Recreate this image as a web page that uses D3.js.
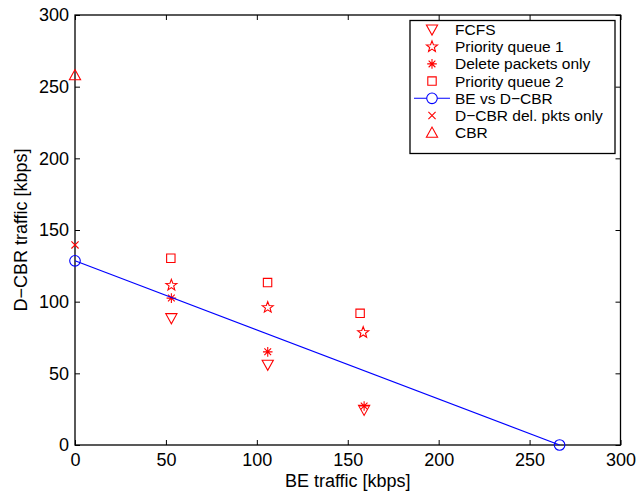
<!DOCTYPE html>
<html><head><meta charset="utf-8">
<script src="https://cdn.jsdelivr.net/npm/d3@7"></script>
<style>body{margin:0;background:#fff;} text{font-family:"Liberation Sans",Arial,Helvetica,sans-serif;}</style>
</head><body>
<svg id="chart" width="638" height="494"></svg>
<script>
const xTicks = [0, 50, 100, 150, 200, 250, 300];
const yTicks = [0, 50, 100, 150, 200, 250, 300];
const fcfs = [[53, 88.5], [106, 56], [159, 24.5]];
const pq1 = [[53, 111.5], [106, 96], [158.5, 78.5]];
const delPkts = [[53, 102.5], [106, 65], [159, 27.2]];
const pq2 = [[52.7, 130.3], [105.9, 113.3], [156.8, 91.9]];
const beVsDcbr = [[0, 128.5], [266.5, 0]];
const dcbrDel = [[0, 139.6]];
const cbr = [[0, 258]];
const legendLabels = ["FCFS", "Priority queue 1", "Delete packets only", "Priority queue 2", "BE vs D\u2212CBR", "D\u2212CBR del. pkts only", "CBR"];

const svg = d3.select("#chart");
const M = {l: 75, r: 620.5, t: 15, b: 445};
const x = d3.scaleLinear().domain([0, 300]).range([M.l, M.r]);
const y = d3.scaleLinear().domain([0, 300]).range([M.b, M.t]);
const red = "#ff0000", blue = "#0000ff";

const axB = d3.axisBottom(x).tickValues(xTicks).tickSizeInner(-5).tickSizeOuter(0).tickPadding(8);
const axL = d3.axisLeft(y).tickValues(yTicks).tickSizeInner(-5).tickSizeOuter(0).tickPadding(6);
const axT = d3.axisTop(x).tickValues(xTicks).tickSizeInner(-5).tickSizeOuter(0).tickFormat("");
const axR = d3.axisRight(y).tickValues(yTicks).tickSizeInner(-5).tickSizeOuter(0).tickFormat("");
function style(g){ g.select(".domain").remove(); g.selectAll("line").attr("stroke","#000"); g.selectAll("text").attr("font-size",18).attr("fill","#000").attr("font-family","Liberation Sans, Arial, sans-serif"); }
svg.append("g").attr("transform",`translate(0,${M.b})`).call(axB).call(style);
svg.append("g").attr("transform",`translate(${M.l},0)`).call(axL).call(style);
svg.append("g").attr("transform",`translate(0,${M.t})`).call(axT).call(style);
svg.append("g").attr("transform",`translate(${M.r},0)`).call(axR).call(style);
svg.append("rect").attr("x",M.l).attr("y",M.t).attr("width",M.r-M.l).attr("height",M.b-M.t).attr("fill","none").attr("stroke","#000").attr("stroke-width",1.3);

svg.append("text").attr("x",(M.l+M.r)/2).attr("y",487).attr("text-anchor","middle").attr("font-size",18).text("BE traffic [kbps]");
svg.append("text").attr("transform",`translate(27,${(M.t+M.b)/2}) rotate(-90)`).attr("text-anchor","middle").attr("font-size",18).text("D\u2212CBR traffic [kbps]");

const mk = {
  tdown: s => `M${-s},${-s*0.8}L${s},${-s*0.8}L0,${s}Z`,
  tup: s => `M${-s},${s*0.8}L${s},${s*0.8}L0,${-s}Z`,
  sq: s => `M${-s},${-s}H${s}V${s}H${-s}Z`,
  x: s => `M${-s},${-s}L${s},${s}M${-s},${s}L${s},${-s}`,
  ast: s => `M0,${-s}V${s}M${-s},0H${s}M${-s*0.7},${-s*0.7}L${s*0.7},${s*0.7}M${-s*0.7},${s*0.7}L${s*0.7},${-s*0.7}`,
  star: s => { let p=[]; for(let i=0;i<10;i++){ const r = i%2===0? s : s*0.42; const a = -Math.PI/2 + i*Math.PI/5; p.push([r*Math.cos(a), r*Math.sin(a)]);} return "M"+p.map(d=>d[0].toFixed(2)+","+d[1].toFixed(2)).join("L")+"Z"; },
  circ: s => `M${s},0A${s},${s} 0 1,1 ${-s},0A${s},${s} 0 1,1 ${s},0Z`
};
const specs = [
  {data: fcfs, m: "tdown", s: 5.6, c: red},
  {data: pq1, m: "star", s: 5.8, c: red},
  {data: delPkts, m: "ast", s: 4.8, c: red},
  {data: pq2, m: "sq", s: 4.2, c: red},
  {data: beVsDcbr, m: "circ", s: 5.3, c: blue, line: true},
  {data: dcbrDel, m: "x", s: 3.6, c: red},
  {data: cbr, m: "tup", s: 5.6, c: red}
];
specs.forEach(sp => {
  if (sp.line) {
    svg.append("path").datum(sp.data).attr("d", d3.line().x(d=>x(d[0])).y(d=>y(d[1]))).attr("fill","none").attr("stroke",sp.c).attr("stroke-width",1.1);
  }
  svg.append("g").selectAll("path").data(sp.data).join("path")
    .attr("transform", d => `translate(${x(d[0])},${y(d[1])})`)
    .attr("d", mk[sp.m](sp.s)).attr("fill","none").attr("stroke",sp.c).attr("stroke-width",1.1);
});

const lg = svg.append("g");
lg.append("rect").attr("x",410).attr("y",20.5).attr("width",205).attr("height",133).attr("fill","#fff").attr("stroke","#000").attr("stroke-width",1.3);
specs.forEach((sp,i) => {
  const cy = 29.5 + i*17.2;
  if (sp.line) lg.append("line").attr("x1",414).attr("x2",450).attr("y1",cy).attr("y2",cy).attr("stroke",sp.c).attr("stroke-width",1.1);
  lg.append("path").attr("transform",`translate(432,${cy})`).attr("d",mk[sp.m](sp.s)).attr("fill", sp.line ? "#fff" : "none").attr("stroke",sp.c).attr("stroke-width",1.1);
  lg.append("text").attr("x",455).attr("y",cy+5.5).attr("font-size",15.5).text(legendLabels[i]);
});
</script>
</body></html>
